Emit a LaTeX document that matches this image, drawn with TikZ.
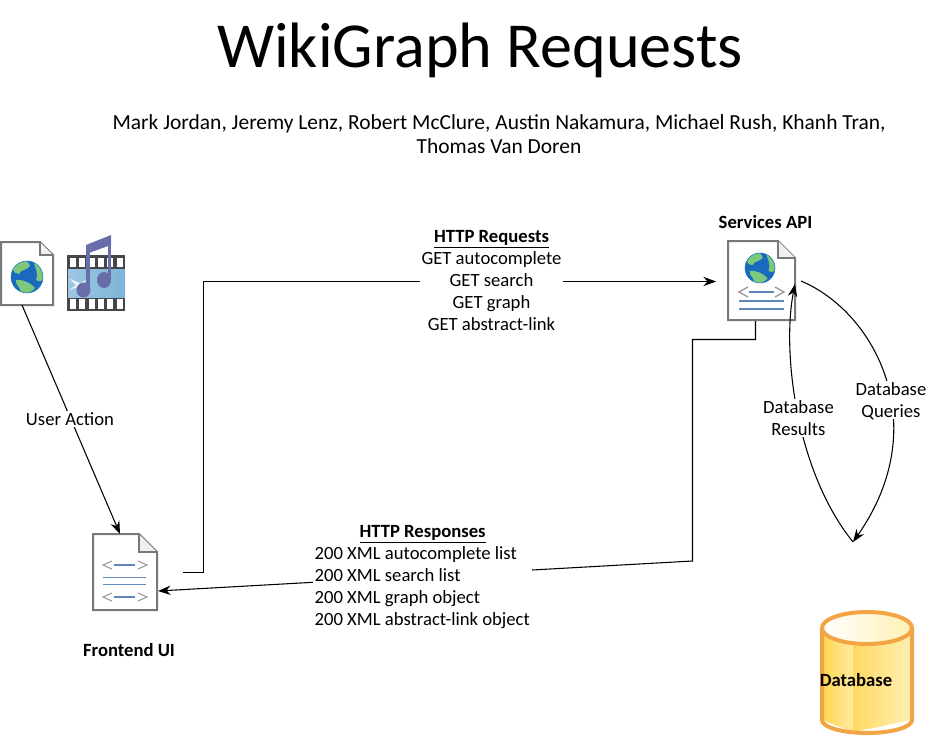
\documentclass[tikz,border=0pt]{standalone}
\usepackage{fontspec}
\setmainfont{Carlito}
\usetikzlibrary{arrows.meta,calc}
\definecolor{docgray}{RGB}{120,120,120}
\definecolor{linkblue}{RGB}{95,135,190}
\definecolor{globeblue}{RGB}{25,105,190}
\definecolor{globegreen}{RGB}{125,200,125}
\definecolor{dborange}{RGB}{243,165,70}
\definecolor{dbyellow}{RGB}{255,212,80}
\definecolor{dbpale}{RGB}{255,240,180}
\definecolor{filmgray}{RGB}{70,70,75}
\definecolor{filmblue}{RGB}{125,180,215}
\definecolor{notepurple}{RGB}{105,110,170}
\tikzset{
  x=0.75pt,y=-0.75pt,
  lbl/.style={font=\fontsize{14pt}{16.5pt}\selectfont,align=center,inner sep=0pt,text depth=0pt},
  lblw/.style={lbl,fill=white,inner sep=1pt},
  conn/.style={draw=black,line width=0.8pt},
  arr/.style={conn,-{Stealth[length=9.5pt,width=7pt]}},
  docbody/.style={draw=docgray,line width=1.5pt,fill=white},
  rule/.style={draw=linkblue,line width=0.9pt},
  brk/.style={draw=gray!80,line width=0.8pt},
}
\newcommand{\docshape}[5]{% x y w h fold
  \draw[docbody] (#1,#2) -- ({#1+#3-#5},#2) -- ({#1+#3},{#2+#5}) -- ({#1+#3},{#2+#4}) -- (#1,{#2+#4}) -- cycle;
  \fill[gray!12] ({#1+#3-#5},#2) -- ({#1+#3},{#2+#5}) -- ({#1+#3-#5},{#2+#5}) -- cycle;
  \draw[draw=docgray,line width=1.5pt] ({#1+#3-#5},#2) -- ({#1+#3-#5},{#2+#5}) -- ({#1+#3},{#2+#5});
}
\newcommand{\globeicon}[3]{% cx cy r
  \begin{scope}[shift={(#1,#2)},scale=#3/16]
    \fill[globeblue] (0,0) circle[radius=16];
    \begin{scope}
      \clip (0,0) circle[radius=16];
      \fill[globegreen] (-12,-16) .. controls (-4,-19) and (2,-16) .. (3,-11) .. controls (-1,-6) and (-6,-8) .. (-8,-3) .. controls (-14,-3) and (-17,-10) .. (-12,-16) -- cycle;
      \fill[globegreen] (6,-17) .. controls (12,-14) and (16,-10) .. (17,-4) .. controls (17,4) and (13,6) .. (9,3) .. controls (12,-4) and (8,-9) .. (6,-17) -- cycle;
      \fill[globegreen] (-11,3) .. controls (-5,2) and (4,6) .. (8,11) .. controls (3,17) and (-3,18) .. (-6,15) .. controls (-7,10) and (-12,7) .. (-11,3) -- cycle;
    \end{scope}
    \draw[cyan!60!blue,line width=0.4pt] (0,0) circle[radius=16];
  \end{scope}
}
\begin{document}
\begin{tikzpicture}
\useasboundingbox (0,0) rectangle (944,735);
\fill[white] (0,0) rectangle (944,735);

% title and authors
\node[font=\fontsize{48.1pt}{50pt}\selectfont,inner sep=0pt] (title) at (480,50) {WikiGraph Requests};
\node[lbl,font=\fontsize{16.1pt}{18.5pt}\selectfont] (authors) at (499,134) {Mark Jordan, Jeremy Lenz, Robert McClure, Austin Nakamura, Michael Rush, Khanh Tran,\\Thomas Van Doren};

% page icon at left
\docshape{1}{242}{52}{63}{13}
\globeicon{27}{277}{16}
\coordinate (pageout) at (22,305);

% media icon
\fill[filmgray] (67,255) rectangle (125,311);
\shade[left color=filmblue!75!white,right color=filmblue] (68,269) rectangle (125,297);
\fill[white,opacity=.8] (70,279) -- (80,283) -- (90,278) -- (81,285) -- (86,294) -- (78,287) -- (69,290) -- (76,285) -- cycle;
\foreach \i in {0,...,5}{
  \fill[white] ({70+\i*9.3},258) rectangle ({76+\i*9.3},267);
  \fill[white] ({70+\i*9.3},299) rectangle ({76+\i*9.3},309);
}
\fill[notepurple] (86,245) -- (111,235) -- (111,245) -- (86,254) -- cycle;
\draw[notepurple,line width=2.6pt] (88,246) -- (88,291);
\draw[notepurple,line width=2.6pt] (109.5,236) -- (109.5,279);
\fill[notepurple] (83.5,290) ellipse[x radius=7,y radius=7.5];
\fill[notepurple] (104,280) ellipse[x radius=7,y radius=8];

% frontend doc
\docshape{93}{534}{64}{76}{18}
\draw[brk] (112,561)--(103,565)--(112,569) (138,561)--(147,565)--(138,569);
\draw[rule,line width=1.2pt] (114,565)--(135,565);
\draw[rule,line width=0.6pt] (103,577)--(146,577) (103,584)--(146,584);
\draw[brk] (112,593)--(103,597)--(112,601) (138,593)--(147,597)--(138,601);
\draw[rule,line width=1.2pt] (114,597)--(135,597);
\coordinate (frontin) at (120,534);
\coordinate (frontreqout) at (183,572.5);
\coordinate (frontresin) at (158,591);

% services doc
\docshape{728}{241}{67}{79}{17}
\globeicon{760}{268}{15}
\draw[brk,line width=1pt] (748,287)--(739,292)--(748,297) (775,287)--(784,292)--(775,297);
\draw[rule,line width=1.2pt] (749,292)--(774,292);
\draw[rule,line width=1.1pt] (739,301)--(784,301) (739,309)--(784,309);
\coordinate (servreqin) at (716,281.5);
\coordinate (servresout) at (755.5,321);
\coordinate (servdbout) at (801,281);
\coordinate (servdbin) at (795,284);
\coordinate (dbtip) at (853,542);

% connectors
\draw[arr] (pageout) -- (frontin);
\draw[arr] (frontreqout) -- (203.5,572.5) -- (203.5,281.5) -- (servreqin);
\draw[arr] (servresout) -- (755.5,339.5) -- (692.5,339.5) -- (692.5,561) -- (frontresin);
\draw[arr] (servdbout) .. controls (875,312) and (935,425) .. (dbtip);
\draw[arr] (dbtip) .. controls (795,470) and (782,350) .. (servdbin);

% labels over connectors
\node[lblw] (useraction) at (70,419) {User Action};
\node[lblw] (httpreq) at (491.5,280) {\textbf{\underline{HTTP Requests}}\\GET autocomplete\\GET search\\GET graph\\GET abstract-link};
\node[lblw,align=left,anchor=west] (httpres) at (313,575) {\makebox[162pt][c]{\textbf{\underline{HTTP Responses}}}\\200 XML autocomplete list\\200 XML search list\\200 XML graph object\\200 XML abstract-link object};
\node[lblw] (dbres) at (798.5,418) {Database\\Results};
\node[lblw] (dbq) at (891,400) {Database\\Queries};
\node[lbl,font=\fontsize{14pt}{16pt}\selectfont\bfseries] (servlabel) at (765.5,222) {Services API};
\node[lbl,font=\fontsize{14pt}{16pt}\selectfont\bfseries] (frontlabel) at (129,650) {Frontend UI};

% database cylinder
\begin{scope}
  \shade[left color=dbyellow,right color=dbpale!80!dbyellow] (822,628) -- (853,628) -- (853,732) -- (822,720) -- cycle;
  \shade[left color=dbyellow!90!white,right color=dbpale] (853,628) -- (912,628) -- (912,720) -- (853,732) -- cycle;
  \draw[dborange,line width=3pt] (822,628) -- (822,720) arc[start angle=180,end angle=0,x radius=45,y radius=13] -- (912,628);
  \shade[left color=white,middle color=dbyellow!75!white,right color=dbpale] (867,628) ellipse[x radius=45,y radius=16];
  \draw[dborange,line width=3pt] (867,628) ellipse[x radius=45,y radius=16];
\end{scope}
\node[lbl,font=\fontsize{14pt}{16pt}\selectfont\bfseries] (dblabel) at (856,680) {Database};
\end{tikzpicture}
\end{document}
